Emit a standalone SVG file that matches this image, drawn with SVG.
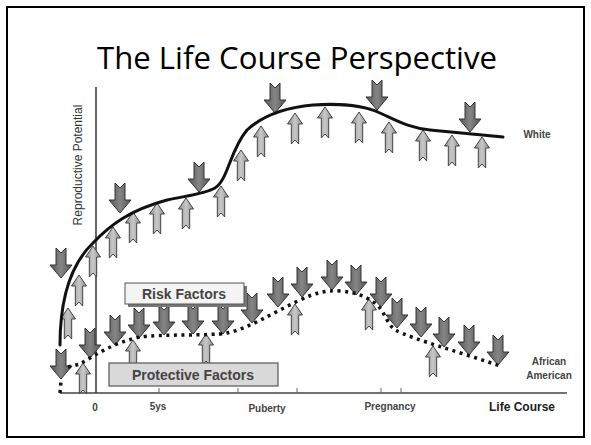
<svg xmlns="http://www.w3.org/2000/svg" width="591" height="445" viewBox="0 0 591 445">
<style>
.frame{fill:#fff;stroke:#000;stroke-width:2}
.title{font-family:"Open Sans","Liberation Sans",sans-serif;font-size:31px;fill:#000}
.axis{stroke:#444;stroke-width:1.6;fill:none}
.tick{stroke:#666;stroke-width:1;fill:none}
.lbl{font-family:"Liberation Sans",Arial,sans-serif;font-weight:bold;font-size:10px;fill:#444}
.big{font-family:"Liberation Sans",Arial,sans-serif;font-weight:bold;font-size:12px;fill:#222}
.ylbl{font-family:"Liberation Sans",Arial,sans-serif;font-size:12px;fill:#333}
.boxt{font-family:"Liberation Sans",Arial,sans-serif;font-weight:bold;font-size:14px;fill:#444}
.white{stroke:#111;stroke-width:3;fill:none;stroke-linecap:round}
.aa{stroke:#111;stroke-width:3.5;fill:none;stroke-dasharray:3 4.5}
.dn{fill:url(#gd);stroke:#333;stroke-width:1}
.up{fill:url(#gu);stroke:#444;stroke-width:1}
</style>
<defs>
<linearGradient id="gd" x1="0" x2="1" y1="0" y2="0">
<stop offset="0" stop-color="#555"/><stop offset="0.5" stop-color="#858585"/><stop offset="1" stop-color="#555"/>
</linearGradient>
<linearGradient id="gu" x1="0" x2="1" y1="0" y2="0">
<stop offset="0" stop-color="#8e8e8e"/><stop offset="0.5" stop-color="#c8c8c8"/><stop offset="1" stop-color="#8e8e8e"/>
</linearGradient>
<path id="down" d="M-5,-30 L0,-25 L5,-30 L5,-13 L11,-13 L0,0 L-11,-13 L-5,-13 Z"/>
<path id="up" d="M0,0 L7.5,11 L3.7,11 L3.7,31 L0,27 L-3.7,31 L-3.7,11 L-7.5,11 Z"/>
</defs>

<rect class="frame" x="7" y="7" width="577" height="430"/>

<g id="title"><text class="title" x="297" y="69" text-anchor="middle" textLength="400" lengthAdjust="spacingAndGlyphs">The Life Course Perspective</text></g>

<g id="axes">
<path class="axis" d="M96,87 L96,393 M60,393 L567,393"/>
<path class="tick" d="M159,388 L159,393 M238,388 L238,393 M297,388 L297,393 M381,388 L381,393 M401,388 L401,393"/>
<text class="lbl" x="95" y="411" text-anchor="middle">0</text>
<text class="lbl" x="158" y="410" text-anchor="middle">5ys</text>
<text class="lbl" x="267" y="412" text-anchor="middle">Puberty</text>
<text class="lbl" x="390" y="410" text-anchor="middle">Pregnancy</text>
<text class="big" x="522" y="411" text-anchor="middle">Life Course</text>
<text class="ylbl" transform="translate(82,165) rotate(-90)" text-anchor="middle">Reproductive Potential</text>
</g>

<g id="labels">
<text class="lbl" x="537" y="138" text-anchor="middle" fill="#333">White</text>
<text class="lbl" x="549" y="365" text-anchor="middle">African</text>
<text class="lbl" x="549" y="379" text-anchor="middle">American</text>
</g>

<g id="protective-arrows" class="up">
<use href="#up" x="79" y="275"/>
<use href="#up" x="93" y="246"/>
<use href="#up" x="113" y="227"/>
<use href="#up" x="133" y="212"/>
<use href="#up" x="157" y="203"/>
<use href="#up" x="186" y="198"/>
<use href="#up" x="221" y="186"/>
<use href="#up" x="241" y="150"/>
<use href="#up" x="261" y="126"/>
<use href="#up" x="295" y="113"/>
<use href="#up" x="325" y="107"/>
<use href="#up" x="359" y="112"/>
<use href="#up" x="389" y="122"/>
<use href="#up" x="423" y="130"/>
<use href="#up" x="452" y="135"/>
<use href="#up" x="482" y="137"/>
<use href="#up" x="68" y="308"/>
<use href="#up" x="83" y="363"/>
<use href="#up" x="133" y="340"/>
<use href="#up" x="206" y="334"/>
<use href="#up" x="295" y="304"/>
<use href="#up" x="369" y="299"/>
<use href="#up" x="433" y="346"/>
</g>

<g id="risk-arrows" class="dn">
<use href="#down" x="61" y="278"/>
<use href="#down" x="120" y="213"/>
<use href="#down" x="199" y="192"/>
<use href="#down" x="275" y="113"/>
<use href="#down" x="377" y="110"/>
<use href="#down" x="470" y="132"/>
<use href="#down" x="61" y="379"/>
<use href="#down" x="90" y="358"/>
<use href="#down" x="115" y="345"/>
<use href="#down" x="139" y="338"/>
<use href="#down" x="164" y="335"/>
<use href="#down" x="193" y="334"/>
<use href="#down" x="223" y="334"/>
<use href="#down" x="252" y="323"/>
<use href="#down" x="278" y="307"/>
<use href="#down" x="302" y="297"/>
<use href="#down" x="332" y="290"/>
<use href="#down" x="356" y="295"/>
<use href="#down" x="381" y="307"/>
<use href="#down" x="397" y="328"/>
<use href="#down" x="421" y="337"/>
<use href="#down" x="444" y="347"/>
<use href="#down" x="469" y="355"/>
<use href="#down" x="498" y="365"/>
</g>

<g id="connectors">
<path class="white" d="M60,345 C60,300 70,265 93,243 C110,225 130,210 167,200 C185,196 205,194 215,188 C228,180 230,150 247,130 C260,118 280,108 313,105 C340,103 365,106 380,113 C400,122 410,128 430,130 C460,133 480,135 503,137"/>
<path class="aa" d="M60,393 L61,380 M68,367 L80,364 C95,355 115,342 140,337 C160,334 210,336 227,333 C250,328 270,314 300,300 C315,293 325,290 340,291 C355,292 365,296 375,303 C385,311 386,323 395,330 C415,340 460,352 500,366"/>
</g>

<g id="risk-box">
<rect x="128" y="286" width="119" height="21" fill="#777"/>
<rect x="125" y="283" width="119" height="21" fill="#f4f4f4" stroke="#555" stroke-width="1"/>
<text class="boxt" x="184" y="299" text-anchor="middle">Risk Factors</text>
</g>

<g id="protective-box">
<rect x="109" y="363" width="169" height="23" fill="#d9d9d9" stroke="#555" stroke-width="1.2"/>
<text class="boxt" x="193" y="380" text-anchor="middle">Protective Factors</text>
</g>
</svg>
